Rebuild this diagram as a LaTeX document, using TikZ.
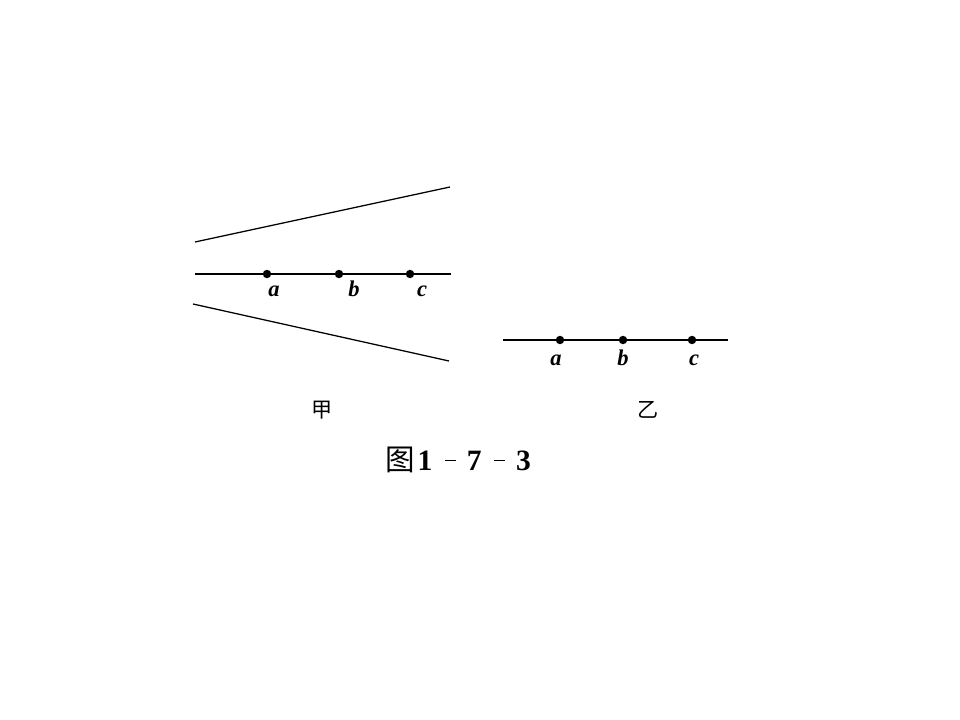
\documentclass[tikz,border=0pt]{standalone}
\usepackage{fontspec}
\setmainfont{Liberation Serif}
\newfontfamily\cjk{Noto Sans CJK SC}
\usetikzlibrary{positioning}

\newcommand{\capdash}{\hspace{9pt}\rule[6.5pt]{7.5pt}{0.9pt}\hspace{8pt}}

\begin{document}
\begin{tikzpicture}[x=0.025cm,y=-0.025cm,
  dot/.style={circle,fill=black,inner sep=0pt,minimum size=6pt},
  lbl/.style={font=\fontsize{16}{16}\selectfont\bfseries\itshape,inner sep=0pt,anchor=base},
  hanzi/.style={font=\cjk\fontsize{15}{15}\selectfont,inner sep=0pt}]

\useasboundingbox (0,0) rectangle (960,720);

% left figure
\coordinate (jl) at (195,274);
\coordinate (jr) at (451,274);
\coordinate (ul) at (195,242);
\coordinate (ur) at (450,187);
\coordinate (dl) at (193,304);
\coordinate (dr) at (449,361);

\node[dot] (ja) at (267,274) {};
\node[dot] (jb) at (339,274) {};
\node[dot] (jc) at (410,274) {};

\draw[line width=1.4pt] (jl) -- (jr);
\draw[line width=0.9pt] (ul) -- (ur);
\draw[line width=0.9pt] (dl) -- (dr);

\node[lbl] at (274,297) {a};
\node[lbl] at (354,297) {b};
\node[lbl] at (422,297) {c};

% right figure
\coordinate (yl) at (503,340);
\coordinate (yr) at (728,340);

\node[dot] (ya) at (560,340) {};
\node[dot] (yb) at (623,340) {};
\node[dot] (yc) at (692,340) {};

\draw[line width=0.8pt] (yl) -- (yr);

\node[lbl] at (556,366) {a};
\node[lbl] at (623,366) {b};
\node[lbl] at (694,366) {c};

\node[hanzi] (jia) at (322,410) {甲};
\node[hanzi] (yi) at (648,410) {乙};

\node[inner sep=0pt] (cap) at (458,460)
  {{\cjk\fontsize{21}{21}\selectfont 图}\hspace{2pt}{\fontsize{21}{21}\selectfont\bfseries 1\capdash 7\capdash 3}};
\end{tikzpicture}
\end{document}
